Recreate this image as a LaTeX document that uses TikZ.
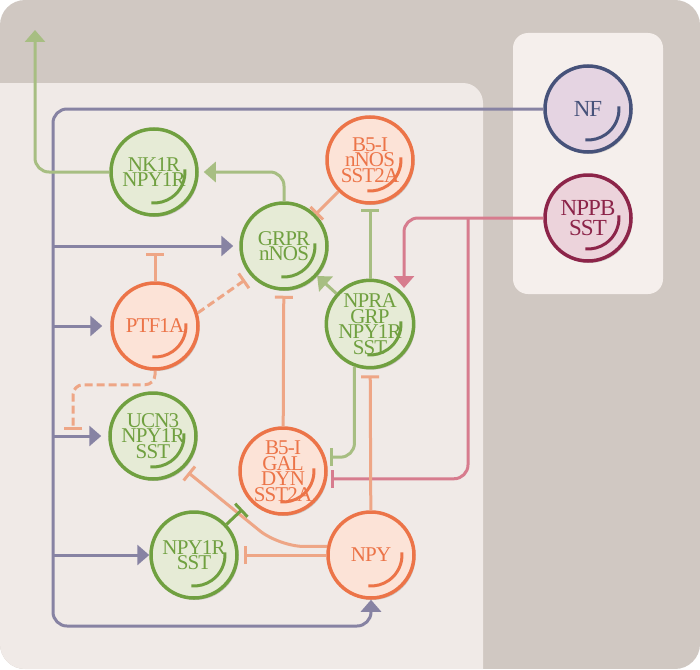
\documentclass[tikz,border=0pt]{standalone}
\usepackage{fontspec}
\setmainfont{Liberation Serif}
\newfontfamily\cellfont[LetterSpace=-4]{Liberation Serif}
\usetikzlibrary{arrows.meta,shadows,graphs}
\definecolor{bgdark}{HTML}{D0C8C2}
\definecolor{bgpanel}{HTML}{F0EAE7}
\definecolor{bgbox}{HTML}{F5EFEC}
\definecolor{grnline}{HTML}{70A040}
\definecolor{grnfill}{HTML}{E6EBD6}
\definecolor{orgline}{HTML}{EC7448}
\definecolor{orgfill}{HTML}{FCE3D7}
\definecolor{nfline}{HTML}{46527A}
\definecolor{nffill}{HTML}{E5D4E2}
\definecolor{ppline}{HTML}{8C2449}
\definecolor{ppfill}{HTML}{ECD3DB}
\definecolor{nfedge}{HTML}{8783A3}
\definecolor{actedge}{HTML}{A7BE82}
\definecolor{inhedge}{HTML}{EEA686}
\definecolor{ppedge}{HTML}{D77C8E}
\tikzset{
    >={Triangle[length=12pt,width=20pt]},
    cell/.style={circle, minimum size=86pt, inner sep=0pt, line width=3.5pt,
        align=center, font=\cellfont\fontsize{21}{15.5}\selectfont,
        drop shadow={shadow xshift=1.5pt, shadow yshift=-2pt, opacity=.15, fill=black}},
    inarc/.style={path picture={\draw[line width=3pt, #1]
        ([shift={(5:31pt)}]path picture bounding box.center)
        arc[start angle=5, end angle=-95, radius=31pt];}},
    grn/.style={cell, draw=grnline, fill=grnfill, text=grnline, inarc=grnline},
    org/.style={cell, draw=orgline, fill=orgfill, text=orgline, inarc=orgline},
    nfc/.style={cell, draw=nfline, fill=nffill, text=nfline, inarc=nfline,
        font=\cellfont\fontsize{23}{20}\selectfont},
    ppc/.style={cell, draw=ppline, fill=ppfill, text=ppline, inarc=ppline,
        font=\cellfont\fontsize{23}{20}\selectfont},
    link/.style={line width=3pt, rounded corners=14pt},
    nfl/.style={link, draw=nfedge, ->},
    act/.style={link, draw=actedge, ->},
    inh/.style={link, draw=inhedge, -{Bar[width=18pt]}},
    inhg/.style={link, draw=actedge, -{Bar[width=18pt]}},
    inhdk/.style={link, draw=grnline, -{Bar[width=18pt]}},
    ppl/.style={link, draw=ppedge, ->},
    inhp/.style={link, draw=ppedge, -{Bar[width=18pt]}},
}

\begin{document}
\begin{tikzpicture}[x=1pt, y=-1pt]
    \useasboundingbox (0,0) rectangle (700,669);
    % panels
    \begin{scope}
        \clip[rounded corners=25pt] (0,0) rectangle (700,669);
        \fill[bgdark] (0,0) rectangle (700,669);
        \fill[bgpanel, rounded corners=20pt] (-30,83) -- (483,83) -- (483,700) -- (-30,700) -- cycle;
    \end{scope}
    \fill[bgbox, rounded corners=15pt] (513,33) rectangle (663,294);

    \node[nfc] (nf) at (588,109) {NF};
    \node[ppc] (nppb) at (588,218) {NPPB\\SST};
    \node[org] (bnos) at (370,160) {B5-I\\nNOS\\SST2A};
    \node[grn] (nk) at (154,172) {NK1R\\NPY1R};
    \node[grn] (grpr) at (284,246) {GRPR\\nNOS};
    \node[grn] (npra) at (370,324) {NPRA\\GRP\\NPY1R\\SST};
    \node[org] (ptf) at (155,326) {PTF1A};
    \node[grn] (ucn) at (153,436) {UCN3\\NPY1R\\SST};
    \node[org] (bgal) at (283,471) {B5-I\\GAL\\DYN\\SST2A};
    \node[grn] (nys) at (194,555) {NPY1R\\SST};
    \node[org] (npy) at (371,555) {NPY};

    \coordinate (nftop) at (53,109);
    \coordinate (nfbot) at (53,626);
    \coordinate (nkout) at (35,30);
    \coordinate (ptfbar) at (155,253);
    \coordinate (ucnbar) at (73,430);
    \coordinate (ppfork) at (468,218);
    \coordinate (ppin) at (404,288);

    \draw[nfl] (nf.west) -- (nftop) -- (nfbot) -| (npy.south);
    \draw[nfl, shorten >=6pt] (nftop |- grpr) -- (grpr);
    \draw[nfl, shorten >=8pt] (nftop |- ptf) -- (ptf);
    \draw[nfl, shorten >=7pt] (nftop |- ucn) -- (ucn);
    \draw[nfl] (nftop |- nys) -- (nys);

    \draw[act] (nk.west) -| (nkout);
    \draw[act, shorten >=5pt] (grpr.north) |- (nk.east);
    \draw[inh] (ptf.north) -- (ptfbar);
    \draw[inh, dash pattern=on 8pt off 4pt, rounded corners=10pt] (ptf.south) -- ++(0,14) -| (ucnbar);
    \draw[inh, dash pattern=on 8pt off 4pt, shorten >=7pt] (ptf.17) -- (grpr.222);
    \draw[inhg, shorten >=4pt] (npra.250) |- (bgal.18);
    \draw[ppl] (nppb.west) -| (ppin);
    \draw[inhp, shorten >=4pt] (ppfork) |- (bgal.350);
    \draw[inh, rounded corners=25pt, shorten >=6pt] (npy.169) -- ++(-48,0) -- (ucn.-47);

    \graph[use existing nodes]{
        npra ->[act] grpr;
        bnos --[inh] grpr;
        npra --[inhg, shorten >=4pt] bnos;
        bgal --[inh, shorten >=5pt] grpr;
        npy --[inh, shorten >=6pt] npra;
        nys --[inhdk, shorten >=11pt] bgal;
        npy --[inh, shorten >=5pt] nys;
    };
\end{tikzpicture}
\end{document}
